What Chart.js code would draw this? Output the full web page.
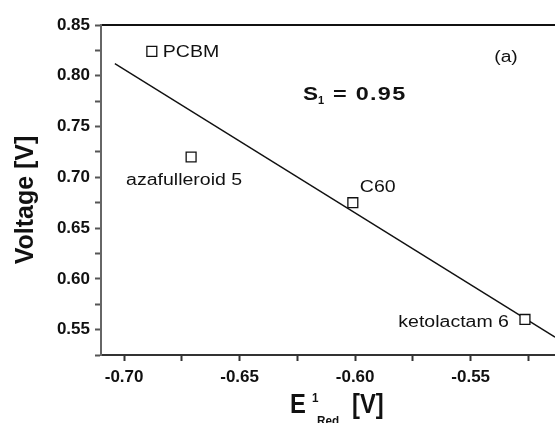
<!DOCTYPE html>
<html>
<head>
<meta charset="utf-8">
<script src="https://cdn.jsdelivr.net/npm/chart.js@4.4.1/dist/chart.umd.min.js"></script>
<style>
  html, body { margin: 0; padding: 0; background: #fff; }
  #wrap { width: 555px; height: 423px; }
</style>
</head>
<body>
<div id="wrap"><canvas id="chart" width="555" height="423"></canvas></div>
<script>
// data
const compounds = ["PCBM", "azafulleroid 5", "C60", "ketolactam 6"];
const eRed = [-0.688, -0.671, -0.601, -0.5265];
const voltage = [0.824, 0.720, 0.675, 0.560];
const fitX = [-0.704, -0.5135];
const fitY = [0.812, 0.5426];
const xRange = [-0.71, -0.5135];
const yRange = [0.525, 0.85];
const tickStep = 0.025;
const labelStep = 0.05;

const FONT = "'Liberation Sans', Arial, sans-serif";

// where each compound name sits relative to its marker (px)
const nameOffsets = [
  { dx: 11, dy: 1, align: "left" },
  { dx: -7, dy: 24, align: "center" },
  { dx: 7, dy: -15, align: "left" },
  { dx: -16, dy: 3, align: "right" }
];

const tickLabel = (v) => {
  const r = Math.round(v * 1000);
  return r % Math.round(labelStep * 1000) === 0 ? (r / 1000).toFixed(2) : "";
};

const stretchText = (ctx, text, x, y, sx, align) => {
  ctx.save();
  ctx.textAlign = align || "left";
  ctx.translate(x, y);
  ctx.scale(sx, 1);
  ctx.fillText(text, 0, 0);
  ctx.restore();
};

const annotations = {
  id: "annotations",
  afterDatasetsDraw(chart) {
    const ctx = chart.ctx;
    const xs = chart.scales.x;
    const ys = chart.scales.y;
    const area = chart.chartArea;
    ctx.save();
    ctx.fillStyle = "#111";
    ctx.textBaseline = "middle";

    // compound names
    ctx.font = "16px " + FONT;
    compounds.forEach((name, i) => {
      const o = nameOffsets[i];
      const px = xs.getPixelForValue(eRed[i]);
      const py = ys.getPixelForValue(voltage[i]);
      stretchText(ctx, name, px + o.dx, py + o.dy, 1.22, o.align);
    });

    // panel tag
    stretchText(ctx, "(a)", xs.getPixelForValue(-0.5347), ys.getPixelForValue(0.8175), 1.2, "center");

    // slope
    ctx.textBaseline = "alphabetic";
    const sx0 = xs.getPixelForValue(-0.6226);
    const sy0 = ys.getPixelForValue(0.7765);
    ctx.font = "bold 18px " + FONT;
    stretchText(ctx, "S", sx0, sy0, 1.25);
    ctx.font = "bold 10px " + FONT;
    stretchText(ctx, "1", sx0 + 15, sy0 + 4, 1.1);
    ctx.font = "bold 18px " + FONT;
    ctx.letterSpacing = "1px";
    stretchText(ctx, "= 0.95", sx0 + 30, sy0, 1.3);
    ctx.letterSpacing = "0px";

    // y title
    ctx.save();
    ctx.font = "bold 25px " + FONT;
    ctx.textAlign = "center";
    ctx.translate(33, (area.top + area.bottom) / 2 + 10);
    ctx.rotate(-Math.PI / 2);
    ctx.fillText("Voltage [V]", 0, 0);
    ctx.restore();

    // x title: E^1_Red [V]
    const cx = (area.left + area.right) / 2;
    const base = area.bottom + 58;
    ctx.font = "bold 28px " + FONT;
    stretchText(ctx, "E", cx - 38, base, 0.85);
    ctx.font = "bold 13px " + FONT;
    stretchText(ctx, "1", cx - 16, base - 11, 0.9);
    stretchText(ctx, "Red", cx - 11, base + 12, 0.9);
    ctx.font = "bold 28px " + FONT;
    stretchText(ctx, "[V]", cx + 24, base, 0.85);
    ctx.restore();
  }
};

const tickFont = { family: FONT, size: 17, weight: "bold" };

new Chart(document.getElementById("chart"), {
  type: "scatter",
  data: {
    datasets: [
      {
        label: "compounds",
        data: eRed.map((x, i) => ({ x: x, y: voltage[i] })),
        pointStyle: "rect",
        pointRadius: 7,
        pointHoverRadius: 7,
        pointBorderWidth: 1.3,
        pointBorderColor: "#111",
        pointBackgroundColor: "#fff",
        order: 0
      },
      {
        type: "line",
        label: "fit",
        data: fitX.map((x, i) => ({ x: x, y: fitY[i] })),
        borderColor: "#111",
        borderWidth: 1.4,
        pointRadius: 0,
        fill: false,
        order: 1
      }
    ]
  },
  options: {
    responsive: false,
    animation: false,
    events: [],
    layout: { padding: 0, autoPadding: false },
    plugins: { legend: { display: false }, tooltip: { enabled: false } },
    scales: {
      x: {
        type: "linear",
        position: "bottom",
        min: xRange[0],
        max: xRange[1],
        afterFit: (s) => { s.height = 68; s.paddingLeft = 0; s.paddingRight = 0; },
        ticks: {
          stepSize: tickStep,
          includeBounds: false,
          autoSkip: false,
          maxRotation: 0,
          padding: 6,
          color: "#111",
          font: tickFont,
          callback: tickLabel
        },
        grid: { drawOnChartArea: false, drawTicks: true, tickLength: 6, tickColor: "#333", tickWidth: 2 },
        border: { display: true, color: "#333", width: 2 }
      },
      x2: {
        type: "linear",
        position: "top",
        min: xRange[0],
        max: xRange[1],
        afterFit: (s) => { s.height = 25; s.paddingLeft = 0; s.paddingRight = 0; },
        ticks: { display: false },
        grid: { display: false, drawTicks: false },
        border: { display: true, color: "#111", width: 2 }
      },
      y: {
        type: "linear",
        min: yRange[0],
        max: yRange[1],
        afterFit: (s) => { s.width = 101; s.paddingTop = 0; s.paddingBottom = 0; },
        ticks: {
          stepSize: tickStep,
          includeBounds: false,
          autoSkip: false,
          padding: 5,
          color: "#111",
          font: tickFont,
          callback: tickLabel
        },
        grid: { drawOnChartArea: false, drawTicks: true, tickLength: 6, tickColor: "#555", tickWidth: 2 },
        border: { display: true, color: "#666", width: 2 }
      }
    }
  },
  plugins: [annotations]
});
</script>
</body>
</html>
